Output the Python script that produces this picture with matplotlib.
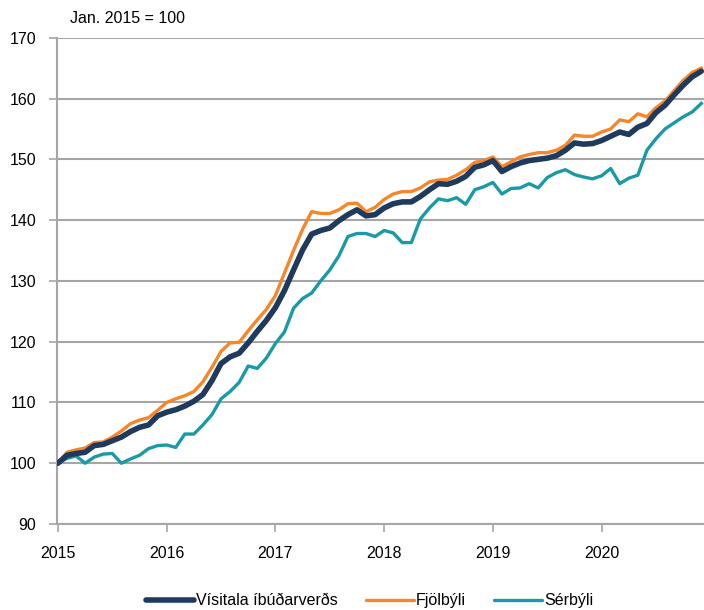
import numpy as np
import matplotlib
matplotlib.use("Agg")
import matplotlib.pyplot as plt

plt.rcParams['font.family'] = ['Liberation Sans Narrow', 'Liberation Sans', 'DejaVu Sans']

# monthly index, Jan 2015 = 100
years = ['2015', '2016', '2017', '2018', '2019', '2020']

visitala = [100, 101.3, 101.6, 101.8, 102.9, 103.1, 103.7, 104.3, 105.2, 105.9, 106.3, 107.8,
            108.4, 108.8, 109.4, 110.2, 111.3, 113.6, 116.4, 117.5, 118.1, 119.8, 121.7, 123.5,
            125.6, 128.4, 131.8, 135.1, 137.7, 138.3, 138.7, 139.9, 140.9, 141.7, 140.7, 140.9,
            142.0, 142.7, 143.0, 143.0, 143.9, 145.0, 146.0, 145.9, 146.4, 147.2, 148.7, 149.1,
            149.8, 148.0, 148.8, 149.4, 149.8, 150.0, 150.2, 150.6, 151.5, 152.7, 152.5, 152.6,
            153.1, 153.8, 154.5, 154.1, 155.3, 155.9, 157.7, 158.9, 160.6, 162.2, 163.6, 164.5]

fjolbyli = [100, 101.8, 102.2, 102.5, 103.4, 103.5, 104.3, 105.3, 106.5, 107.1, 107.5, 108.7,
            110.0, 110.6, 111.1, 111.8, 113.4, 115.8, 118.4, 119.8, 119.9, 121.8, 123.6, 125.3,
            127.6, 131.3, 135.0, 138.5, 141.4, 141.1, 141.1, 141.7, 142.7, 142.8, 141.4, 142.1,
            143.4, 144.3, 144.7, 144.7, 145.3, 146.3, 146.6, 146.7, 147.4, 148.3, 149.5, 149.8,
            150.4, 148.8, 149.6, 150.4, 150.8, 151.1, 151.1, 151.5, 152.3, 154.0, 153.8, 153.8,
            154.5, 155.0, 156.5, 156.2, 157.5, 157.0, 158.5, 159.6, 161.3, 163.0, 164.3, 165.0]

serbyli = [100, 100.8, 101.2, 100.0, 101.0, 101.5, 101.6, 100.0, 100.7, 101.3, 102.4, 102.9,
           103.0, 102.6, 104.8, 104.8, 106.3, 108.0, 110.6, 111.8, 113.3, 116.0, 115.6, 117.3,
           119.7, 121.6, 125.5, 127.1, 128.0, 130.0, 131.8, 134.1, 137.3, 137.8, 137.8, 137.3,
           138.3, 137.9, 136.3, 136.3, 140.2, 142.0, 143.5, 143.2, 143.7, 142.6, 145.0, 145.5,
           146.2, 144.3, 145.2, 145.3, 146.0, 145.3, 147.0, 147.8, 148.3, 147.5, 147.1, 146.8,
           147.3, 148.5, 146.0, 146.9, 147.4, 151.5, 153.4, 155.0, 156.0, 157.0, 157.8, 159.2]

months = np.arange(len(visitala))

fig = plt.figure(figsize=(7.04, 6.10), dpi=100)
ax = fig.add_axes([0.081, 0.141, 0.919, 0.797])

grid_col = '#a6a6a6'
ax.plot(months, visitala, color='#1f3a5c', linewidth=4.0, label='Vísitala íbúðarverðs',
        solid_capstyle='round', zorder=3)
ax.plot(months, fjolbyli, color='#f7862a', linewidth=2.4, label='Fjölbýli', zorder=2)
ax.plot(months, serbyli, color='#1a9aa6', linewidth=2.4, label='Sérbýli', zorder=2)

ax.set_xlim(-0.1, 71.3)
ax.set_ylim(90, 170)
ax.set_yticks(range(90, 171, 10))
ax.set_xticks(np.arange(0, 72, 12))
ax.set_xticklabels(years)

ax.grid(axis='y', color=grid_col, linewidth=1.5)
ax.set_axisbelow(True)
for side in ['top', 'right']:
    ax.spines[side].set_visible(False)
for side in ['left', 'bottom']:
    ax.spines[side].set_color(grid_col)
    ax.spines[side].set_linewidth(1.5)
ax.tick_params(axis='both', colors=grid_col, labelcolor='black', labelsize=11.5,
               length=6, width=1.2)
ax.tick_params(axis='x', pad=10)
ax.tick_params(axis='y', pad=9)

fig.text(0.099, 0.97, 'Jan. 2015 = 100', fontsize=11.5, va='center', ha='left')

leg = fig.legend(loc='center', bbox_to_anchor=(0.525, 0.015), ncol=3, frameon=False,
                 fontsize=11.5, handlelength=3.0, handletextpad=0.1, columnspacing=1.8)
for line in leg.get_lines():
    line.set_solid_capstyle('round')

fig.savefig('out.png', dpi=100)
